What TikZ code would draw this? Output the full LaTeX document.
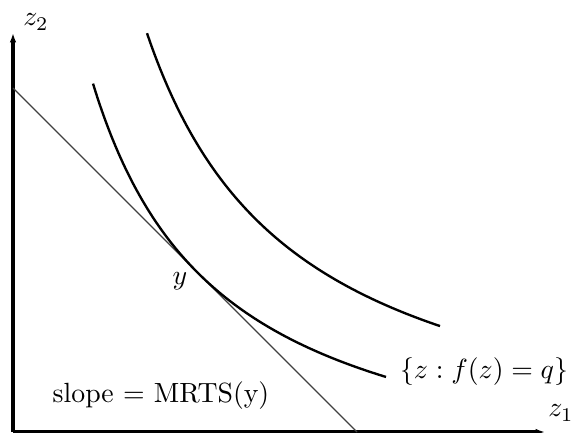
\documentclass[tikz,border=0pt]{standalone}
\usepackage{amsmath,amssymb}
\usepackage{tikz}
\usetikzlibrary{arrows.meta}

\begin{document}
\begin{tikzpicture}[
    x=.36pt,y=-.36pt,
    ax/.style={-{Latex[length=3.4pt,width=2.4pt]},line width=1.1pt},
    iq/.style={line width=.85pt,samples=80,smooth},
    tl/.style={line width=.4pt,black!75}
  ]
    \useasboundingbox (0,0) rectangle (580,432);
    \coordinate (o) at (13,432);
    \coordinate (xe) at (545,432);
    \coordinate (ye) at (13,33);
    \coordinate (t0) at (13,88);
    \coordinate (t1) at (357,432);
    \draw[ax] (o)--(xe); \draw[ax] (o)--(ye);
    \draw[tl] (t0)--(t1);
    \draw[iq,domain=80:373] plot ({13+\x},{506.6-234.05*(234.05/(\x+49.5))});
    \draw[iq,domain=134:427] plot ({13+\x},{476.3-258.07*(258.07/(\x+16.3))});
    \node (lz2) at (36,22) {$z_2$};
    \node (lz1) at (561,413) {$z_1$};
    \node (ly) at (180,281) {$y$};
    \node (lq) at (484,372) {$\{z:f(z)=q\}$};
    \node (ls) at (161,396) {slope $=$ MRTS(y)};
  \end{tikzpicture}
\end{document}
